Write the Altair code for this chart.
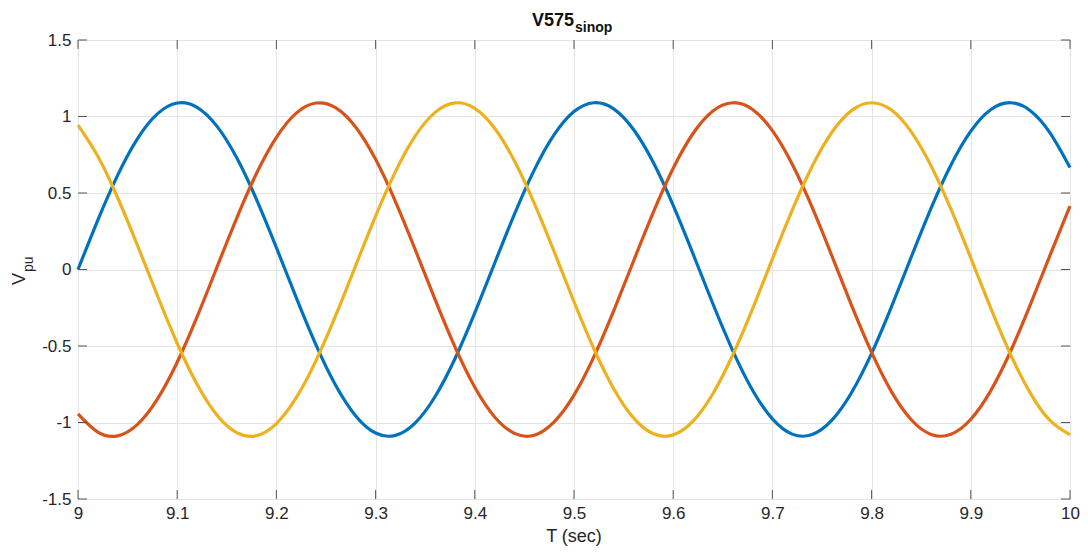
import altair as alt
import pandas as pd

# time axis (s), every 0.02 s from 9.00 to 10.00
t = [round(9 + 0.02 * i, 2) for i in range(51)]

phase_a = [0.000, 0.323, 0.617, 0.856, 1.017, 1.088, 1.060, 0.937, 0.730, 0.457,
           0.143, -0.184, -0.494, -0.760, -0.957, -1.069, -1.084, -1.002, -0.830, -0.583,
           -0.284, 0.041, 0.362, 0.651, 0.881, 1.032, 1.090, 1.050, 0.915, 0.699,
           0.419, 0.102, -0.224, -0.530, -0.789, -0.976, -1.076, -1.079, -0.985, -0.802,
           -0.548, -0.244, 0.082, 0.401, 0.683, 0.904, 1.044, 1.090, 1.038, 0.892,
           0.667]
phase_b = [-0.944, -1.063, -1.087, -1.012, -0.847, -0.606, -0.310, 0.014, 0.336, 0.629,
           0.864, 1.022, 1.088, 1.057, 0.930, 0.720, 0.444, 0.129, -0.197, -0.506,
           -0.770, -0.964, -1.071, -1.083, -0.996, -0.821, -0.571, -0.270, 0.055, 0.375,
           0.662, 0.889, 1.036, 1.090, 1.046, 0.908, 0.688, 0.407, 0.088, -0.238,
           -0.542, -0.798, -0.982, -1.078, -1.077, -0.979, -0.793, -0.536, -0.230, 0.096,
           0.414]
phase_c = [0.944, 0.740, 0.469, 0.157, -0.170, -0.482, -0.750, -0.951, -1.066, -1.086,
           -1.007, -0.838, -0.594, -0.297, 0.027, 0.349, 0.640, 0.873, 1.027, 1.089,
           1.053, 0.923, 0.709, 0.432, 0.116, -0.211, -0.518, -0.779, -0.970, -1.074,
           -1.081, -0.991, -0.812, -0.559, -0.257, 0.069, 0.388, 0.673, 0.897, 1.040,
           1.090, 1.042, 0.900, 0.677, 0.394, 0.075, -0.251, -0.554, -0.808, -0.988,
           -1.080]

x_ticks = [9, 9.1, 9.2, 9.3, 9.4, 9.5, 9.6, 9.7, 9.8, 9.9, 10]
y_ticks = [-1.5, -1, -0.5, 0, 0.5, 1, 1.5]
phases = ["a", "b", "c"]
colors = ["#0072BD", "#D95319", "#EDB120"]

W, H = 992, 459
FONT = "Liberation Sans"
TXT = "#262626"

rows = []
for name, vals in zip(phases, [phase_a, phase_b, phase_c]):
    for i, (tt, vv) in enumerate(zip(t, vals)):
        rows.append({"t": tt, "v": vv, "phase": name, "order": i})
df = pd.DataFrame(rows)

xscale = alt.Scale(domain=[9, 10], nice=False, zero=False)
yscale = alt.Scale(domain=[-1.5, 1.5], nice=False, zero=False)
xaxis = alt.Axis(values=x_ticks, labelExpr="'' + datum.value", ticks=False,
                 domain=False, grid=True, gridColor="#e4e4e4", labelFont=FONT,
                 labelFontSize=17, labelColor=TXT, labelPadding=6, title=None,
                 labelFlush=False, labelOverlap=False)
yaxis = alt.Axis(values=y_ticks, labelExpr="'' + datum.value", ticks=False,
                 domain=False, grid=True, gridColor="#e4e4e4", labelFont=FONT,
                 labelFontSize=17, labelColor=TXT, labelPadding=7, title=None,
                 labelFlush=False, labelOverlap=False)

lines = alt.Chart(df).mark_line(strokeWidth=3.2, interpolate="natural").encode(
    x=alt.X("t:Q", scale=xscale, axis=xaxis, title=None),
    y=alt.Y("v:Q", scale=yscale, axis=yaxis, title=None),
    color=alt.Color("phase:N", scale=alt.Scale(domain=phases, range=colors), legend=None),
    order="order:Q",
)

xt = pd.DataFrame({"t": x_ticks})
yt = pd.DataFrame({"v": y_ticks})
tick_col = "#555555"
xb = alt.Chart(xt).mark_rule(color=tick_col, strokeWidth=1).encode(
    x=alt.X("t:Q", scale=xscale, axis=xaxis, title=None), y=alt.value(H), y2=alt.value(H - 9))
xtop = alt.Chart(xt).mark_rule(color=tick_col, strokeWidth=1).encode(
    x=alt.X("t:Q", scale=xscale, axis=xaxis, title=None), y=alt.value(0), y2=alt.value(9))
yl = alt.Chart(yt).mark_rule(color=tick_col, strokeWidth=1).encode(
    y=alt.Y("v:Q", scale=yscale, axis=yaxis, title=None), x=alt.value(0), x2=alt.value(9))
yr = alt.Chart(yt).mark_rule(color=tick_col, strokeWidth=1).encode(
    y=alt.Y("v:Q", scale=yscale, axis=yaxis, title=None), x=alt.value(W), x2=alt.value(W - 9))

def label(text, x, y, size, weight="normal", align="left", angle=0, baseline="alphabetic"):
    return alt.Chart(pd.DataFrame({"s": [text]})).mark_text(
        font=FONT, fontSize=size, fontWeight=weight, align=align, angle=angle,
        baseline=baseline, color=TXT if weight == "normal" else "#111111",
    ).encode(text="s:N", x=alt.value(x), y=alt.value(y))

title_main = label("V575", 496, -14, 18, weight="bold", align="right")
title_sub = label("sinop", 497, -8, 14, weight="bold", align="left")
xtitle = label("T (sec)", W / 2, 502, 18, align="center")
ytitle_main = label("V", -53, 245, 18, align="left", angle=270)
ytitle_sub = label("pu", -45, 232, 14, align="left", angle=270)

chart = alt.layer(
    lines, xb, xtop, yl, yr, title_main, title_sub, xtitle, ytitle_main, ytitle_sub
).properties(
    width=W, height=H,
    autosize=alt.AutoSizeParams(type="none"),
    padding={"left": 70, "top": 32, "right": 10, "bottom": 48},
).configure_view(stroke="#555555", strokeWidth=1)

chart.save("out.html", embed_options={"renderer": "svg", "actions": False})
